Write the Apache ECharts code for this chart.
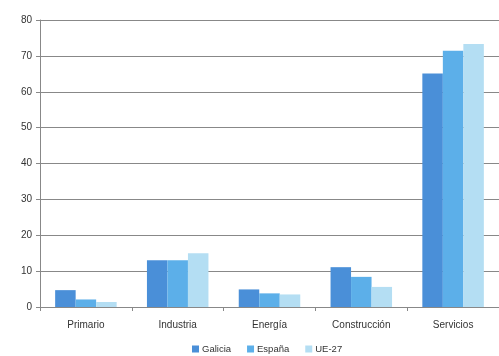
<!DOCTYPE html>
<html>
<head>
<meta charset="utf-8">
<script src="https://cdn.jsdelivr.net/npm/echarts@6/dist/echarts.min.js"></script>
<style>
  html, body { margin: 0; padding: 0; background: #fff; }
  #chart { width: 499px; height: 356px; }
</style>
</head>
<body>
<div id="chart"></div>
<script>
// sectores
const sectors = ['Primario', 'Industria', 'Energía', 'Construcción', 'Servicios']
const galicia = [4.7, 13.0, 4.9, 11.1, 65.1]
const espana = [2.1, 13.0, 3.8, 8.4, 71.4]
const ue27 = [1.4, 15.0, 3.5, 5.6, 73.3]
const seriesNames = ['Galicia', 'España', 'UE-27']
const colors = ['#4a8fd8', '#5cafe9', '#b4def3']

const chart = echarts.init(document.getElementById('chart'))

const dataSets = [galicia, espana, ue27]

const option = {
  animation: false,
  color: colors,
  textStyle: { fontFamily: 'Liberation Sans, Arial, sans-serif' },
  legend: {
    data: seriesNames,
    top: 339,
    left: 187,
    itemWidth: 7,
    itemHeight: 7,
    itemGap: 16,
    icon: 'rect',
    textStyle: { fontSize: 9.5, color: '#333', padding: [0, 0, 0, -2] }
  },
  grid: {
    left: 40,
    right: -8,
    top: 20,
    bottom: 49
  },
  xAxis: {
    type: 'category',
    data: sectors,
    axisLine: { lineStyle: { color: '#888', width: 1 } },
    axisTick: { show: true, length: 4, lineStyle: { color: '#888' } },
    axisLabel: { fontSize: 10, color: '#333', margin: 13 }
  },
  yAxis: {
    type: 'value',
    min: 0,
    max: 80,
    interval: 10,
    axisLine: { show: true, lineStyle: { color: '#888', width: 1 } },
    axisTick: { show: true, length: 4, lineStyle: { color: '#888' } },
    axisLabel: { fontSize: 10, color: '#333', margin: 8 },
    splitLine: { lineStyle: { color: '#888', width: 1 } }
  },
  series: seriesNames.map((name, i) => ({
    name: name,
    type: 'bar',
    data: dataSets[i],
    barGap: '0%',
    barCategoryGap: '33%',
    itemStyle: { color: colors[i] }
  }))
}

chart.setOption(option)
</script>
</body>
</html>
